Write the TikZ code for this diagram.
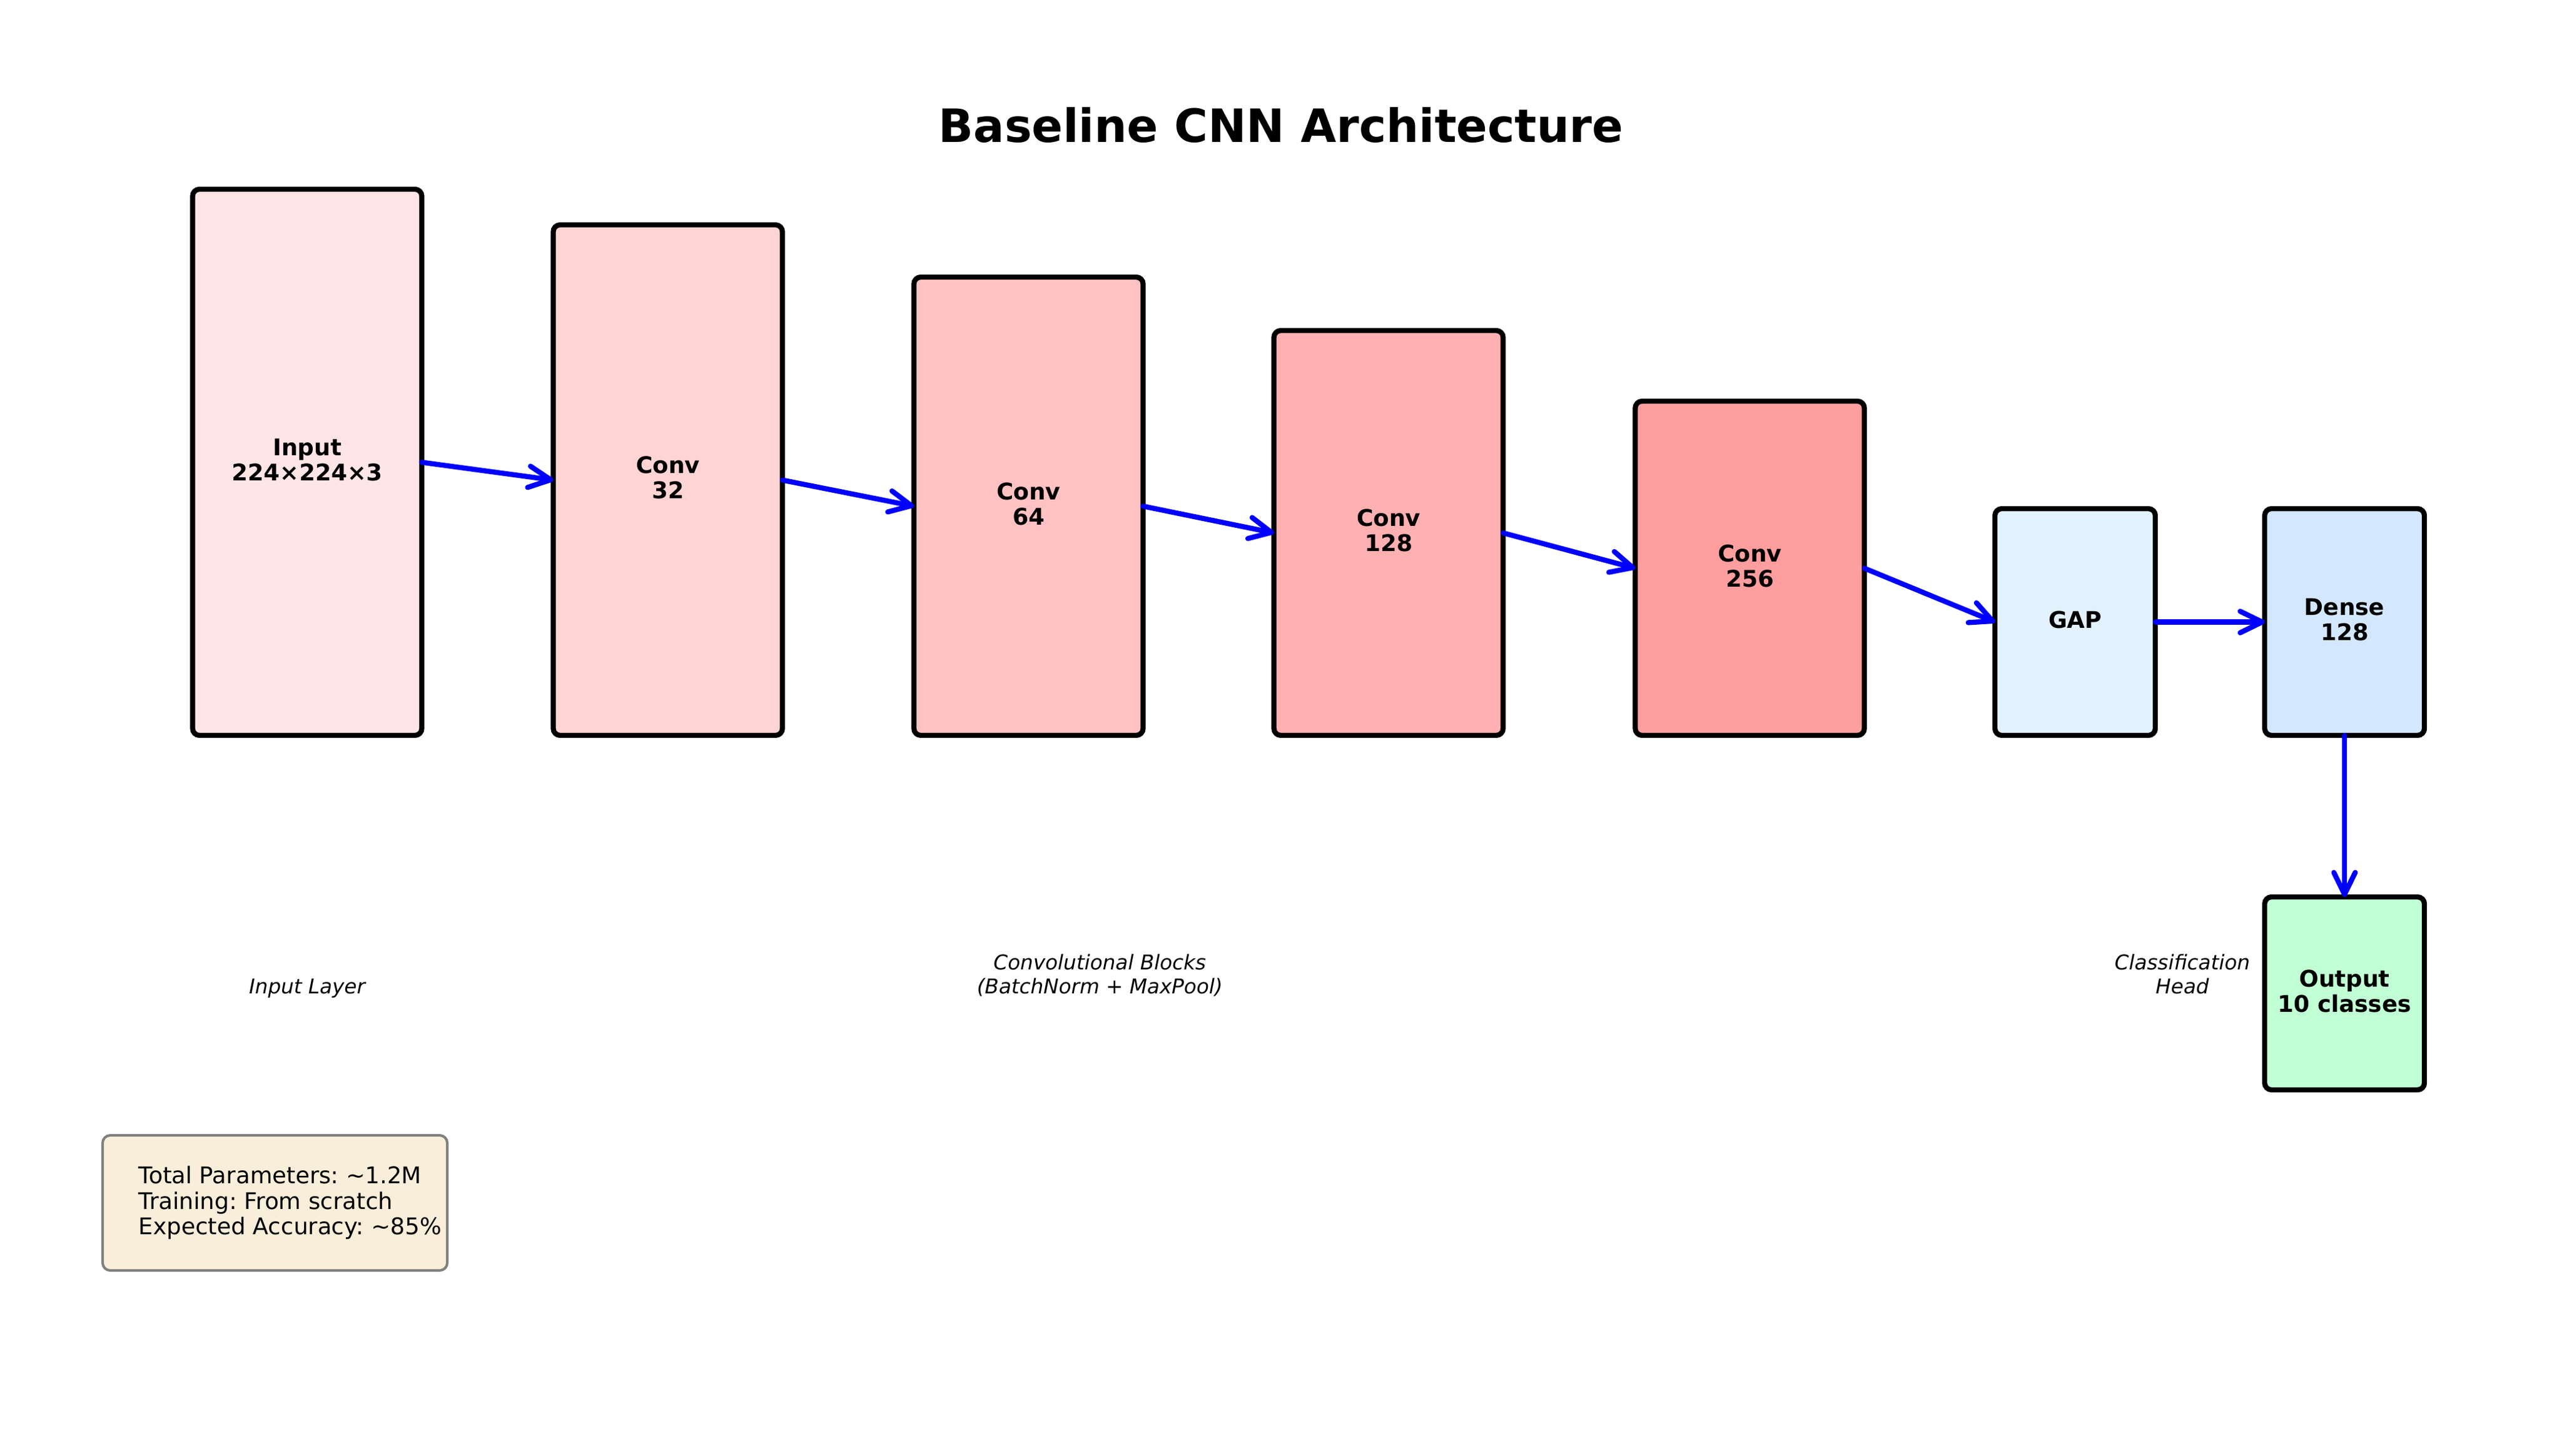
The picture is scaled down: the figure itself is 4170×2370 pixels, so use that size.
\documentclass[tikz,border=0pt]{standalone}
\usepackage{fontspec}
\setmainfont{DejaVu Sans}
\usetikzlibrary{arrows.meta}
\frenchspacing
\def\pxu{0.24090pt}
\definecolor{cInput}{RGB}{255,229,229}
\definecolor{cConvA}{RGB}{255,212,212}
\definecolor{cConvB}{RGB}{255,194,194}
\definecolor{cConvC}{RGB}{255,176,176}
\definecolor{cConvD}{RGB}{255,158,158}
\definecolor{cGap}{RGB}{227,241,253}
\definecolor{cDense}{RGB}{211,231,254}
\definecolor{cOut}{RGB}{193,255,212}
\definecolor{cInfo}{RGB}{249,238,217}
\begin{document}
\begin{tikzpicture}[x=0.2409pt, y=-0.2409pt,
  layer/.style={draw=black, line width=2pt, rounded corners=2.7pt, outer sep=0pt,
    inner sep=0pt, align=center, font=\fontsize{9}{9.8}\selectfont\bfseries,
    execute at end node={\vphantom{g}}},
  conn/.style={draw=blue, line width=2pt, line cap=round, line join=round,
    -{Straight Barb[length=8.6pt,width=8.4pt,line cap=round,line join=round]}},
  note/.style={font=\fontsize{8}{9.4}\selectfont\itshape, align=center, inner sep=0pt},
]
\useasboundingbox[fill=white] (0,0) rectangle (4170,2370);

\node[font=\fontsize{18}{21.6}\selectfont\bfseries, anchor=base, inner sep=0pt] (title) at (2085,232) {Baseline CNN Architecture};

\node[layer, fill=cInput, minimum width=373*\pxu, minimum height=889*\pxu] (input) at (500,752.5) {Input\\224×224×3};
\node[layer, fill=cConvA, minimum width=373*\pxu, minimum height=831*\pxu] (conva) at (1087,781.5) {Conv\\32};
\node[layer, fill=cConvB, minimum width=373*\pxu, minimum height=746*\pxu] (convb) at (1674,824) {Conv\\64};
\node[layer, fill=cConvC, minimum width=373*\pxu, minimum height=659*\pxu] (convc) at (2260,867.5) {Conv\\128};
\node[layer, fill=cConvD, minimum width=373*\pxu, minimum height=544*\pxu] (convd) at (2848,925) {Conv\\256};
\node[layer, fill=cGap, minimum width=261*\pxu, minimum height=369*\pxu] (gap) at (3377.5,1012.5) {GAP};
\node[layer, fill=cDense, minimum width=260*\pxu, minimum height=369*\pxu] (dense) at (3816,1012.5) {Dense\\128};
\node[layer, fill=cOut, minimum width=260*\pxu, minimum height=314*\pxu] (output) at (3816,1617) {Output\\10 classes};

\draw[conn] (input.east) -- (conva.west);
\draw[conn] (conva.east) -- (convb.west);
\draw[conn] (convb.east) -- (convc.west);
\draw[conn] (convc.east) -- (convd.west);
\draw[conn] (convd.east) -- (gap.west);
\draw[conn] (gap.east) -- (dense.west);
\draw[conn] (dense.south) -- (output.north);

\node[note, anchor=base] (lblin) at (500,1617) {Input Layer};
\node[note] (lblconv) at (1790,1588) {Convolutional Blocks\\(BatchNorm + MaxPool)};
\node[note] (lblhead) at (3552,1586) {Classification\\Head};

\node[draw=black!50, line width=1pt, fill=cInfo, rounded corners=3pt, minimum width=561*\pxu,
  minimum height=220*\pxu, inner sep=0pt, outer sep=0pt] (info) at (447.5,1958) {};
\node[anchor=west, align=left, inner sep=0pt, font=\fontsize{9}{10}\selectfont] (infotext) at (225,1958)
  {Total Parameters: \textasciitilde1.2M\\Training: From scratch\\Expected Accuracy: \textasciitilde85\%};
\end{tikzpicture}
\end{document}
